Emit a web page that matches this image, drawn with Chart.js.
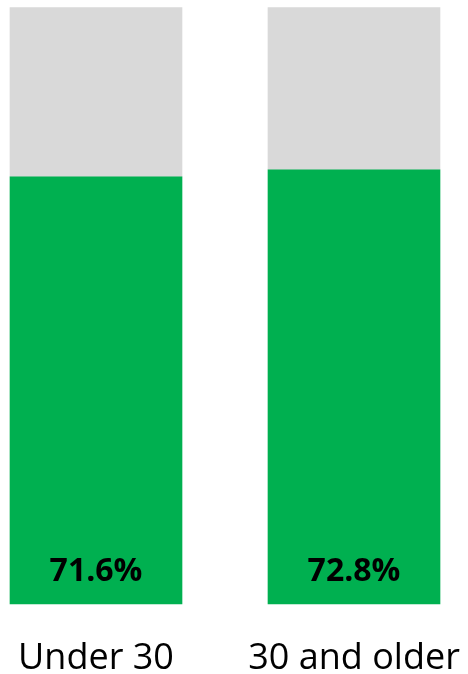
<!DOCTYPE html>
<html>
<head>
<meta charset="utf-8">
<script src="https://cdn.jsdelivr.net/npm/chart.js@4/dist/chart.umd.min.js"></script>
<style>
  html, body { margin: 0; padding: 0; background: #ffffff; }
  #wrap { width: 468px; height: 674px; position: relative; }
</style>
</head>
<body>
<div id="wrap"><canvas id="chart"></canvas></div>
<script>
// Share of each age group, in percent
const categories = ['Under 30', '30 and older'];
const shareValues = [71.6, 72.8];
const remainderValues = [28.4, 27.2];
const valueLabels = ['71.6%', '72.8%'];

const GREEN = '#00B050';
const GREY = '#D9D9D9';

// Writes the percentage near the bottom of each green bar
const barValueLabels = {
  id: 'barValueLabels',
  afterDatasetsDraw(chart) {
    const meta = chart.getDatasetMeta(0);
    const ctx = chart.ctx;
    ctx.save();
    ctx.font = 'bold 32px "Open Sans", sans-serif';
    ctx.fillStyle = '#000000';
    ctx.textAlign = 'center';
    ctx.textBaseline = 'middle';
    meta.data.forEach((bar, i) => {
      ctx.fillText(valueLabels[i], bar.x, bar.base - 32);
    });
    ctx.restore();
  }
};

new Chart(document.getElementById('chart'), {
  type: 'bar',
  data: {
    labels: categories,
    datasets: [
      {
        data: shareValues,
        backgroundColor: GREEN,
        borderWidth: 0,
        barThickness: 172,
        clip: false
      },
      {
        data: remainderValues,
        backgroundColor: GREY,
        borderWidth: 0,
        barThickness: 172,
        clip: false
      }
    ]
  },
  options: {
    responsive: true,
    maintainAspectRatio: false,
    animation: false,
    layout: { autoPadding: false, padding: { left: 96, right: 114, top: 7.5, bottom: 0 } },
    plugins: {
      legend: { display: false },
      tooltip: { enabled: false }
    },
    scales: {
      x: {
        stacked: true,
        offset: false,
        grid: { display: false, drawTicks: false, tickLength: 0 },
        border: { display: false },
        afterFit(scale) {
          scale.height = 70;
          scale.paddingLeft = 0;
          scale.paddingRight = 0;
        },
        ticks: {
          padding: 37,
          color: '#000000',
          maxRotation: 0,
          autoSkip: false,
          font: { family: '"Open Sans", sans-serif', size: 36, lineHeight: 1 }
        }
      },
      y: {
        stacked: true,
        display: false,
        min: 0,
        max: 100
      }
    }
  },
  plugins: [barValueLabels]
});
</script>
</body>
</html>
